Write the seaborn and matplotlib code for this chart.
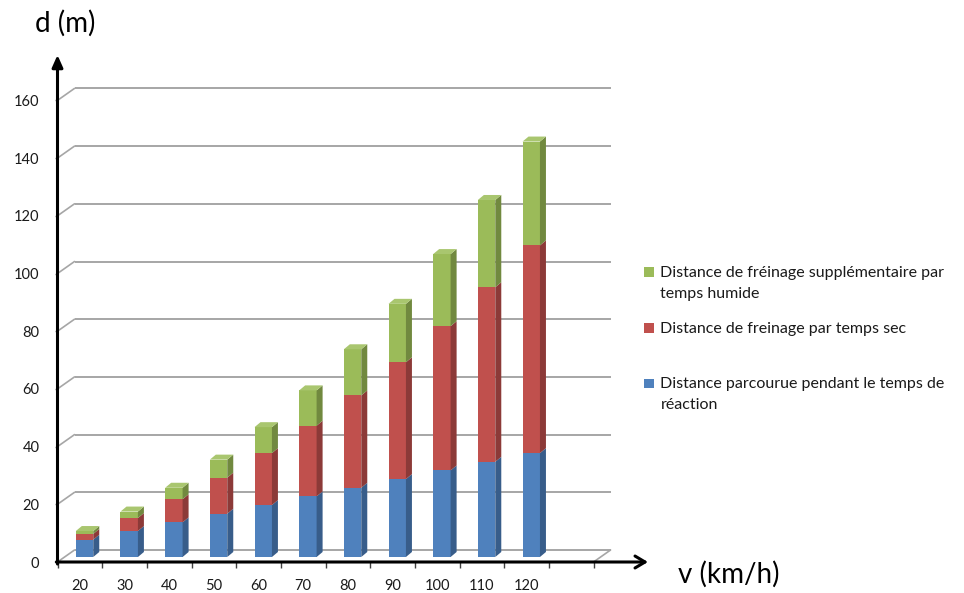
import numpy as np
import pandas as pd
import matplotlib
matplotlib.use("Agg")
import matplotlib.pyplot as plt
import seaborn as sns
from matplotlib.patches import Polygon, Rectangle
from matplotlib.transforms import offset_copy

# ---- data -------------------------------------------------------------
speeds = [20, 30, 40, 50, 60, 70, 80, 90, 100, 110, 120]
reaction = [6, 9, 12, 15, 18, 21, 24, 27, 30, 33, 36]
dry_braking = [2, 4.5, 8, 12.5, 18, 24.5, 32, 40.5, 50, 60.5, 72]
wet_extra = [1, 2.25, 4, 6.25, 9, 12.25, 16, 20.25, 25, 30.25, 36]
y_ticks = [0, 20, 40, 60, 80, 100, 120, 140, 160]
series_labels = [
    ["Distance de fréinage supplémentaire par", "temps humide"],
    ["Distance de freinage par temps sec"],
    ["Distance parcourue pendant le temps de", "réaction"],
]

# ---- style ------------------------------------------------------------
front = {"blue": "#4F81BD", "red": "#C0504D", "green": "#9BBB59"}
side = {"blue": "#385D8A", "red": "#8C3A38", "green": "#71893F"}
top_green = "#A9C66F"
grid_col = "#A6A6A6"
txt_col = "#1a1a1a"

sns.set_theme(style="white")
plt.rcParams["font.family"] = ["Lato", "DejaVu Sans"]

W, H = 964, 593
fig = plt.figure(figsize=(W / 100, H / 100), dpi=100)

# plot frame in pixels: front plane origin and scales
x_left_px, x_right_px = 57.5, 648.0
y_zero_px, y_top_px = 562.0, 55.0
slot_px = 44.67          # width of one category slot
unit_px = 2.885          # pixels per metre
ax = fig.add_axes([x_left_px / W, (H - y_zero_px) / H,
                   (x_right_px - x_left_px) / W, (y_zero_px - y_top_px) / H])

cats = [str(s) for s in speeds]
lower = np.array(reaction, dtype=float)
middle = lower + np.array(dry_braking)
upper = middle + np.array(wet_extra)

df = pd.DataFrame({"v": cats, "reaction": lower, "dry": middle, "wet": upper})

bar_w = 0.39
for col, c in [("wet", front["green"]), ("dry", front["red"]), ("reaction", front["blue"])]:
    sns.barplot(data=df, x="v", y=col, order=cats, color=c, saturation=1,
                width=bar_w, ax=ax, linewidth=0, zorder=3)

ax.set_xlim(-0.5, -0.5 + (x_right_px - x_left_px) / slot_px)
ax.set_ylim(0, (y_zero_px - y_top_px) / unit_px)

# pixel -> data conversions
kx, ky = slot_px, unit_px
# columns stand a little behind the front plane (right and up)
bar_dx_px, bar_dy_px = 4.7, 5.0
bar_tr = offset_copy(ax.transData, fig=fig, x=bar_dx_px, y=bar_dy_px, units="dots")
for p in ax.patches:
    p.set_transform(bar_tr)
    p.set_zorder(3)

# depth of each column (side and top faces)
ddx, ddy = 6.0 / kx, 5.0 / ky
segments = [(np.zeros_like(lower), lower, "blue"),
            (lower, middle, "red"),
            (middle, upper, "green")]
for i in range(len(cats)):
    xr = i + bar_w / 2
    xl = i - bar_w / 2
    for lo_arr, hi_arr, key in segments:
        lo, hi = lo_arr[i], hi_arr[i]
        ax.add_patch(Polygon([(xr, lo), (xr + ddx, lo + ddy), (xr + ddx, hi + ddy), (xr, hi)],
                             closed=True, facecolor=side[key], edgecolor="none",
                             transform=bar_tr, zorder=3))
    T = upper[i]
    ax.add_patch(Polygon([(xl, T), (xr, T), (xr + ddx, T + ddy), (xl + ddx, T + ddy)],
                         closed=True, facecolor=top_green, edgecolor="none",
                         transform=bar_tr, zorder=3))

# back-plane gridlines with slanted connectors to the front axis
back_dx, back_dy = 17.0 / kx, 12.0 / ky
n_slots = 12
x_start, x_end = -0.5, -0.5 + n_slots
for v in y_ticks:
    ax.plot([x_start + back_dx, x_end + back_dx], [v + back_dy, v + back_dy],
            color=grid_col, lw=1.4, zorder=1, solid_capstyle="butt")
    ax.plot([x_start, x_start + back_dx], [v, v + back_dy],
            color=grid_col, lw=1.2, zorder=1)
ax.plot([x_end, x_end + back_dx], [0, back_dy], color=grid_col, lw=1.2, zorder=1)

# ticks and labels
for s in ax.spines.values():
    s.set_visible(False)
ax.set_yticks(y_ticks)
ax.set_yticklabels([str(t) for t in y_ticks])
ax.set_xticks(range(len(cats)))
ax.set_xticklabels(cats)
ax.set_xticks(np.arange(n_slots + 1) - 0.5, minor=True)
ax.tick_params(axis="y", left=True, length=2.5, width=1.0, color="#808080",
               pad=10.5, labelsize=10.5, labelcolor=txt_col)
ax.tick_params(axis="x", which="major", bottom=True, length=0, pad=12,
               labelsize=10.5, labelcolor=txt_col)
ax.tick_params(axis="x", which="minor", bottom=True, length=4.3, width=1.0,
               color="#404040")
ax.set_xlabel("")
ax.set_ylabel("")
ax.grid(False)

# axis arrows
ax.annotate("", xy=(0, 1), xytext=(0, -0.004), xycoords="axes fraction",
            arrowprops=dict(arrowstyle="-|>,head_length=0.72,head_width=0.32",
                            lw=2.2, color="black", shrinkA=0, shrinkB=0,
                            mutation_scale=10), annotation_clip=False, zorder=5)
ax.annotate("", xy=(1, 0), xytext=(-0.002, 0), xycoords="axes fraction",
            arrowprops=dict(arrowstyle="->,head_length=0.72,head_width=0.43",
                            lw=2.2, color="black", shrinkA=0, shrinkB=0,
                            mutation_scale=10), annotation_clip=False, zorder=5)

# axis titles
fig.text(35 / W, 1 - 32 / H, "d (m)", fontsize=20, color="black", va="baseline", ha="left")
fig.text(678 / W, 1 - 583 / H, "v (km/h)", fontsize=20, color="black", va="baseline", ha="left")

# legend
leg_colors = [front["green"], front["red"], front["blue"]]
leg_baselines = [[276.7, 298.0], [332.5], [388.0, 409.0]]
for lines, c, bases in zip(series_labels, leg_colors, leg_baselines):
    fig.patches.append(Rectangle((644 / W, 1 - bases[0] / H), 9.5 / W, 9.5 / H,
                                 transform=fig.transFigure, facecolor=c,
                                 edgecolor="none"))
    for line, b in zip(lines, bases):
        fig.text(660.5 / W, 1 - b / H, line, fontsize=11.5, color=txt_col,
                 va="baseline", ha="left")

fig.savefig("out.png", dpi=100)
